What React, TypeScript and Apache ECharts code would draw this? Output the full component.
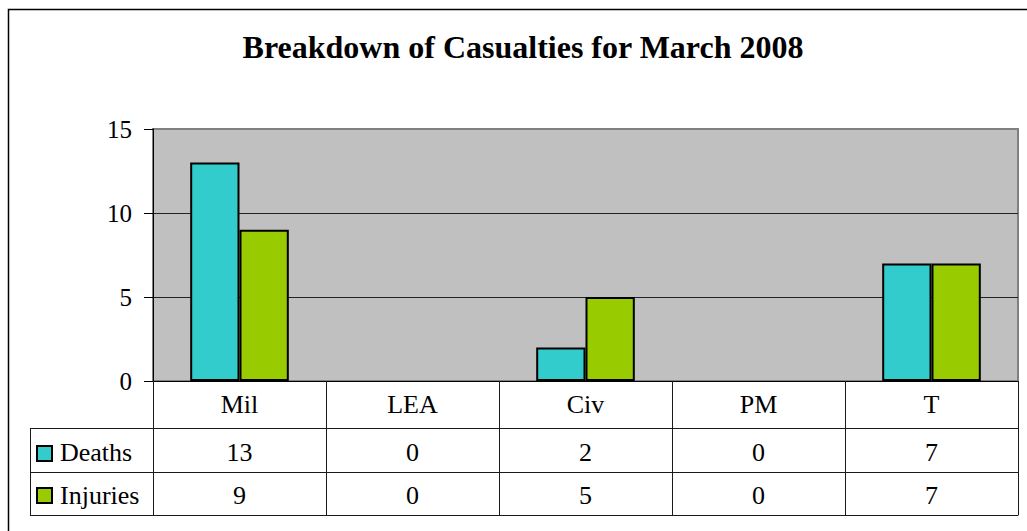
import React, { useEffect, useRef } from "react";
import * as echarts from "echarts";

const titleText = "Breakdown of Casualties for March 2008";
const categories = ["Mil", "LEA", "Civ", "PM", "T"];
const seriesNames = ["Deaths", "Injuries"];
const deaths = [13, 0, 2, 0, 7];
const injuries = [9, 0, 5, 0, 7];
const colors = ["#33CCCC", "#99CC00"];
const yMin = 0;
const yMax = 15;
const yInterval = 5;

const FONT = '"Times New Roman", "Liberation Serif", Tinos, "DejaVu Serif", serif';
const LINE = "#1a1a1a";

export default function App() {
  const ref = useRef<HTMLDivElement>(null);
  useEffect(() => {
    if (!ref.current) return;
    const chart = echarts.init(ref.current, undefined, { renderer: "svg" });
    const labelBase = { fontFamily: FONT, fontSize: 26, color: "#000" };
    const tableAxis = (offset: number, vals: number[] | null, margin: number, tickLen: number) => ({
      type: "category",
      data: categories,
      gridIndex: 0,
      position: "bottom",
      offset,
      axisLine: { show: true, onZero: false, lineStyle: { color: LINE, width: 1 } },
      axisTick: { show: tickLen > 0, interval: 0, length: tickLen, lineStyle: { color: LINE, width: 1 } },
      axisLabel: {
        show: vals !== null,
        interval: 0,
        margin,
        verticalAlign: "middle",
        ...labelBase,
        formatter: (_v: string, i: number) => (vals ? String(vals[i]) : ""),
      },
      splitLine: { show: false },
    });
    const barData = (vals: number[]) => vals.map((v) => (v === 0 ? null : v));
    chart.setOption({
      animation: false,
      backgroundColor: "#fff",
      textStyle: { fontFamily: FONT },
      grid: {
        left: 153,
        top: 129,
        width: 865,
        height: 252,
        show: true,
        backgroundColor: "#C0C0C0",
        borderColor: "#808080",
        borderWidth: 2,
      },
      xAxis: [
        {
          type: "category",
          data: categories,
          position: "bottom",
          axisLine: { show: true, onZero: false, lineStyle: { color: "#000", width: 1 } },
          axisTick: { show: true, interval: 0, length: 47, lineStyle: { color: LINE, width: 1 } },
          axisLabel: { interval: 0, margin: 23, verticalAlign: "middle", ...labelBase },
          splitLine: { show: false },
        },
        tableAxis(47, deaths, 24, 44),
        tableAxis(91, injuries, 23.5, 43),
        tableAxis(134, null, 0, 0),
      ],
      yAxis: {
        type: "value",
        min: yMin,
        max: yMax,
        interval: yInterval,
        axisLine: { show: true, lineStyle: { color: "#000", width: 1 } },
        axisTick: { show: true, length: 9, lineStyle: { color: "#000", width: 1 } },
        axisLabel: { margin: 21, ...labelBase, fontSize: 25 },
        splitLine: { show: true, showMaxLine: false, lineStyle: { color: "#222", width: 1 } },
      },
      series: [
        {
          name: seriesNames[0],
          type: "bar",
          xAxisIndex: 0,
          data: barData(deaths),
          barGap: "0%",
          barCategoryGap: "43%",
          itemStyle: { color: colors[0], borderColor: "#000", borderWidth: 2 },
        },
        {
          name: seriesNames[1],
          type: "bar",
          xAxisIndex: 0,
          data: barData(injuries),
          barGap: "0%",
          barCategoryGap: "43%",
          itemStyle: { color: colors[1], borderColor: "#000", borderWidth: 2 },
        },
      ],
      graphic: [
        {
          type: "rect",
          shape: { x: 8.5, y: 9.5, width: 1040, height: 540 },
          style: { fill: "none", stroke: "#000", lineWidth: 1.5 },
          z: 100,
        },
        {
          type: "text",
          x: 523,
          y: 47,
          style: {
            text: titleText,
            font: `bold 32px ${FONT}`,
            fill: "#000",
            align: "center",
            verticalAlign: "middle",
          },
        },
        { type: "line", shape: { x1: 30.5, y1: 428, x2: 30.5, y2: 515 }, style: { stroke: LINE, lineWidth: 1 } },
        { type: "line", shape: { x1: 30, y1: 428.5, x2: 153, y2: 428.5 }, style: { stroke: LINE, lineWidth: 1 } },
        { type: "line", shape: { x1: 30, y1: 472.5, x2: 153, y2: 472.5 }, style: { stroke: LINE, lineWidth: 1 } },
        { type: "line", shape: { x1: 30, y1: 515.5, x2: 153, y2: 515.5 }, style: { stroke: LINE, lineWidth: 1 } },
        {
          type: "rect",
          shape: { x: 37, y: 446, width: 15, height: 15 },
          style: { fill: colors[0], stroke: "#000", lineWidth: 2 },
        },
        {
          type: "rect",
          shape: { x: 37, y: 488, width: 15, height: 15 },
          style: { fill: colors[1], stroke: "#000", lineWidth: 2 },
        },
        {
          type: "text",
          x: 60,
          y: 452,
          style: { text: seriesNames[0], font: `26px ${FONT}`, fill: "#000", verticalAlign: "middle" },
        },
        {
          type: "text",
          x: 60,
          y: 495.5,
          style: { text: seriesNames[1], font: `26px ${FONT}`, fill: "#000", verticalAlign: "middle" },
        },
      ],
    });
    return () => chart.dispose();
  }, []);
  return (
    <div
      ref={ref}
      style={{ position: "absolute", left: 0, top: 0, width: 1027, height: 531 }}
    />
  );
}
